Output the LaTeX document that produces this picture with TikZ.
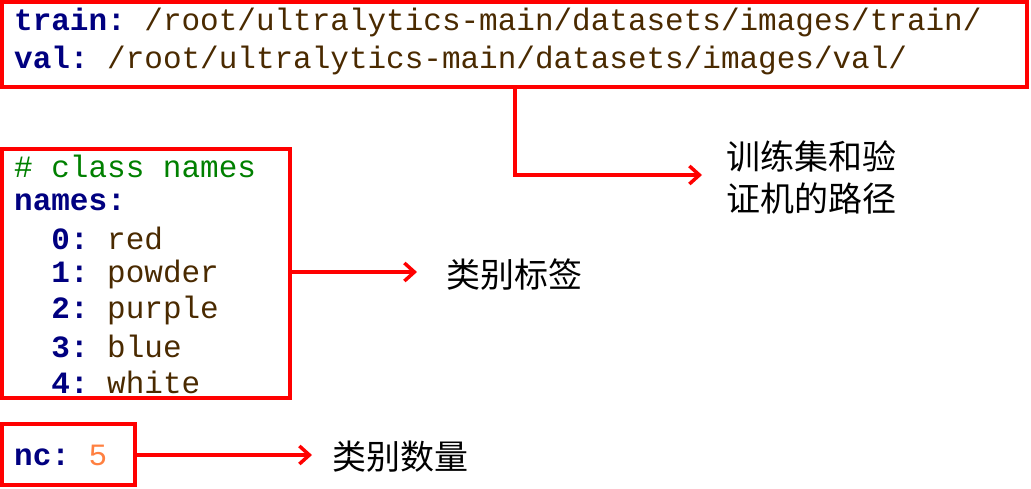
\documentclass[tikz,border=0pt]{standalone}
\usetikzlibrary{arrows.meta}
\usepackage{fontspec}
\setmonofont{Liberation Mono}
\newfontfamily\cjk{Noto Sans CJK SC}
\definecolor{kw}{HTML}{000080}
\definecolor{val}{HTML}{4A2A00}
\definecolor{cm}{HTML}{008000}
\definecolor{num}{HTML}{FF8040}
\begin{document}
\begin{tikzpicture}[x=1pt,y=-1pt,
  box/.style={draw=red,line width=4pt},
  arr/.style={draw=red,line width=3.5pt,-{Straight Barb[length=10pt,width=18pt]}},
  code/.style={anchor=west,inner sep=0pt,font=\ttfamily\fontsize{31}{31}\selectfont},
  lab/.style={anchor=west,inner sep=0pt,align=left,font=\cjk\fontsize{34}{42}\selectfont}]
\useasboundingbox (0,0) rectangle (1031,488);
\fill[white] (0,0) rectangle (1031,488);
\draw[box] (2,2) rectangle (1027,87);
\coordinate (tb) at (515,87);
\node[code] (l1) at (14,22) {\textcolor{kw}{\bfseries train:} \textcolor{val}{/root/ultralytics-main/datasets/images/train/}};
\node[code] (l2) at (14,60) {\textcolor{kw}{\bfseries val:} \textcolor{val}{/root/ultralytics-main/datasets/images/val/}};
\draw[box] (2,149) rectangle (290,398);
\coordinate (cb) at (290,272);
\node[code] (c0) at (14,166) {\textcolor{cm}{\# class names}};
\node[code] (c1) at (14,202) {\textcolor{kw}{\bfseries names:}};
\foreach \i/\n [evaluate=\i as \yy using 238+36*\i] in {0/red,1/powder,2/purple,3/blue,4/white}
  \node[code] at (14,\yy) {\textcolor{kw}{\bfseries\ \ \i:} \textcolor{val}{\n}};
\draw[box] (2,424) rectangle (135,485);
\coordinate (nb) at (135,455);
\node[code] (n1) at (14,455) {\textcolor{kw}{\bfseries nc:} \textcolor{num}{5}};
\node[lab] (t1) at (726,177) {训练集和验\\证机的路径};
\node[lab] (t2) at (446,275) {类别标签};
\node[lab] (t3) at (332,457) {类别数量};
\draw[arr] (tb) |- (702,175);
\draw[arr] (cb) -- (417,272);
\draw[arr] (nb) -- (312,455);
\end{tikzpicture}
\end{document}
